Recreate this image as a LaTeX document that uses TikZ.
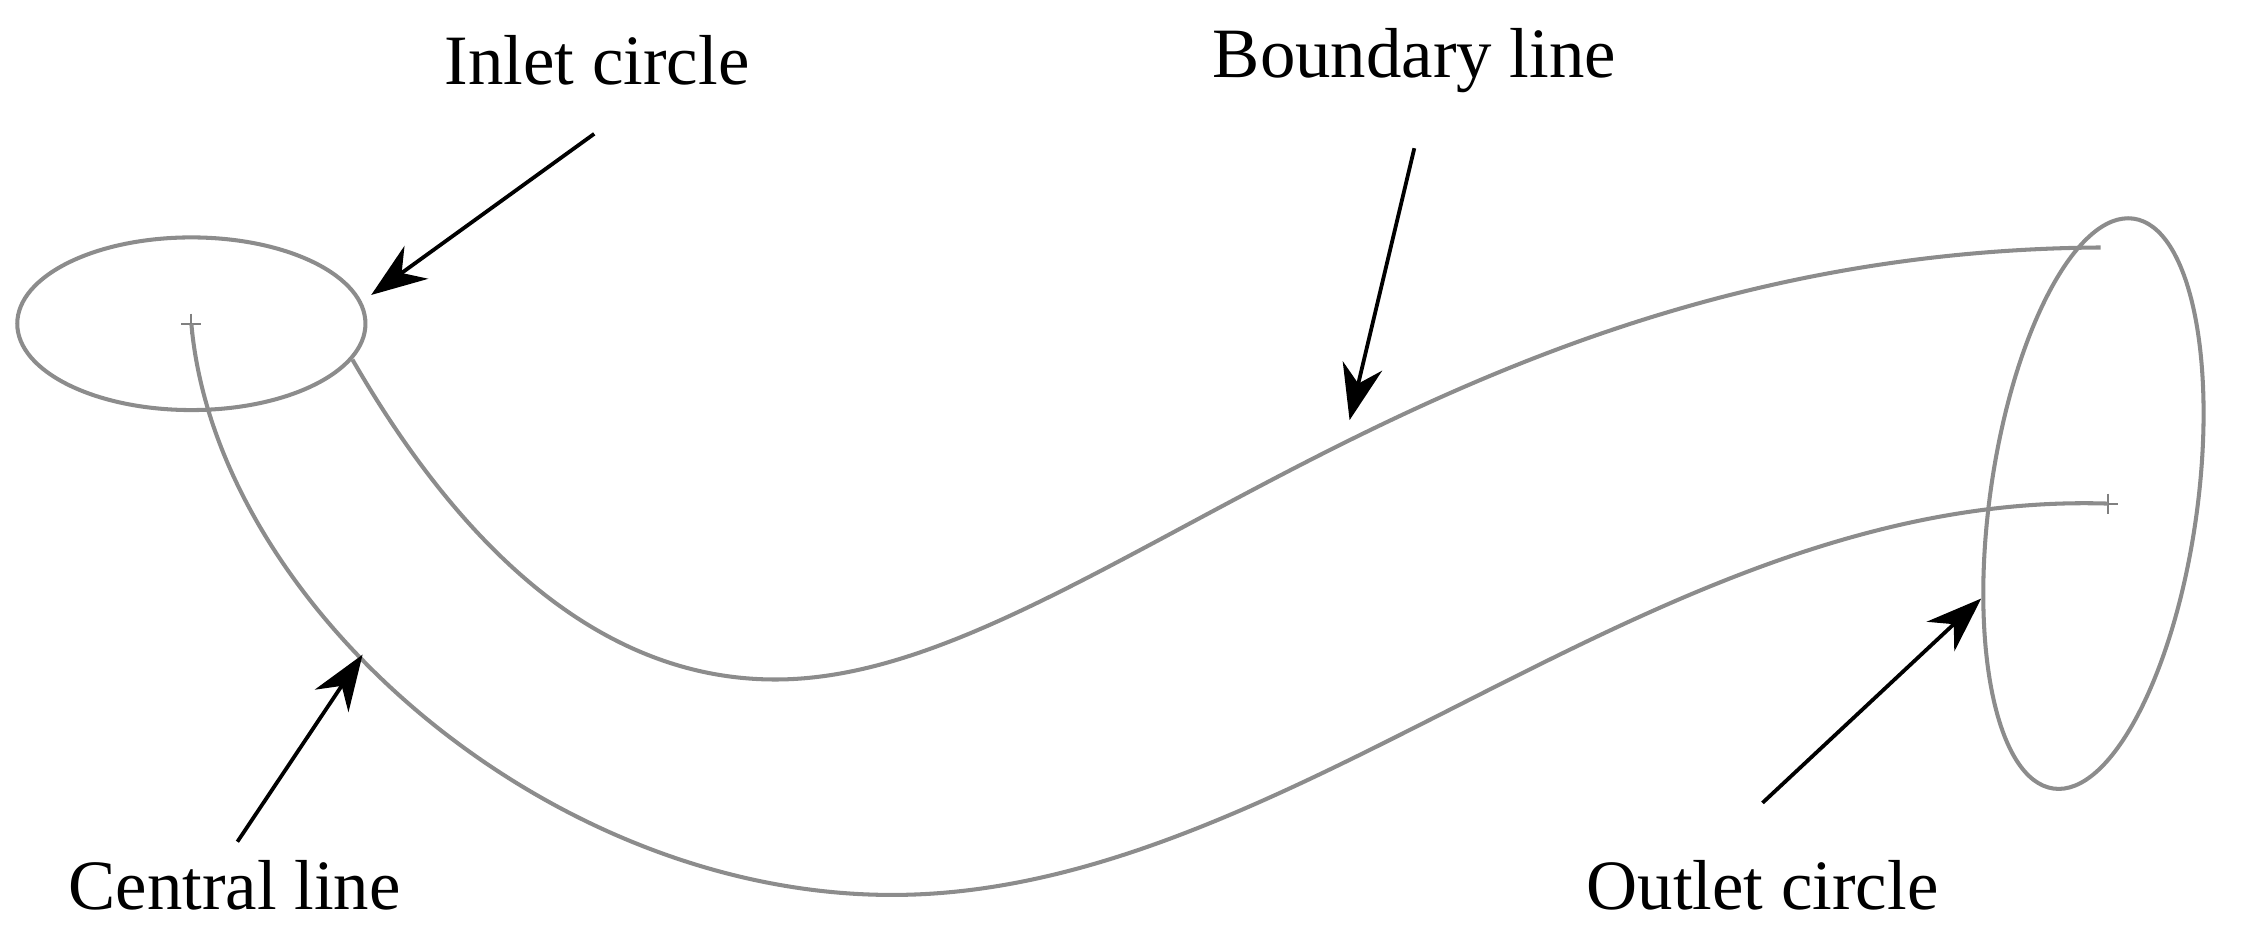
\documentclass[tikz,border=0pt]{standalone}
\usepackage{fontspec}
\setmainfont{Liberation Serif}
\usetikzlibrary{arrows.meta}
\begin{document}
\begin{tikzpicture}[x=0.02cm,y=-0.02cm,
  pipe/.style={draw=black!45,line width=1.6pt},
  lbl/.style={font=\fontsize{28}{33}\selectfont,inner sep=0pt},
  pointer/.style={-{Stealth[length=22pt,width=16pt]},line width=1.5pt,black}]
\useasboundingbox (0,0) rectangle (1568,657);
\draw[pipe] (133,225) ellipse [x radius=121,y radius=60];
\draw[pipe,rotate around={-8:(1455,350)}] (1455,350) ellipse [x radius=72,y radius=200];
\draw[black!50,line width=0.8pt] (126,225)--(140,225) (133,218)--(133,232);
\draw[black!50,line width=0.8pt] (1458,350)--(1472,350) (1465,343)--(1465,357);
\draw[pipe] (133,225) .. controls (150,420) and (380,622) .. (620,622)
  .. controls (900,622) and (1150,340) .. (1465,350);
\draw[pipe] (245,250) .. controls (320,380) and (420,478) .. (550,472)
  .. controls (760,462) and (1000,175) .. (1460,172);
\node[lbl] (inlet) at (415,42) {Inlet circle};
\node[lbl] (bound) at (983,42) {Boundary line};
\node[lbl] (central) at (163,615) {Central line};
\node[lbl] (outlet) at (1225,615) {Outlet circle};
\coordinate (a1) at (258,205); \coordinate (a2) at (938,292);
\coordinate (a3) at (252,455); \coordinate (a4) at (1377,416);
\draw[pointer] (413,93) -- (a1);
\draw[pointer] (983,103) -- (a2);
\draw[pointer] (165,585) -- (a3);
\draw[pointer] (1225,558) -- (a4);
\end{tikzpicture}
\end{document}
